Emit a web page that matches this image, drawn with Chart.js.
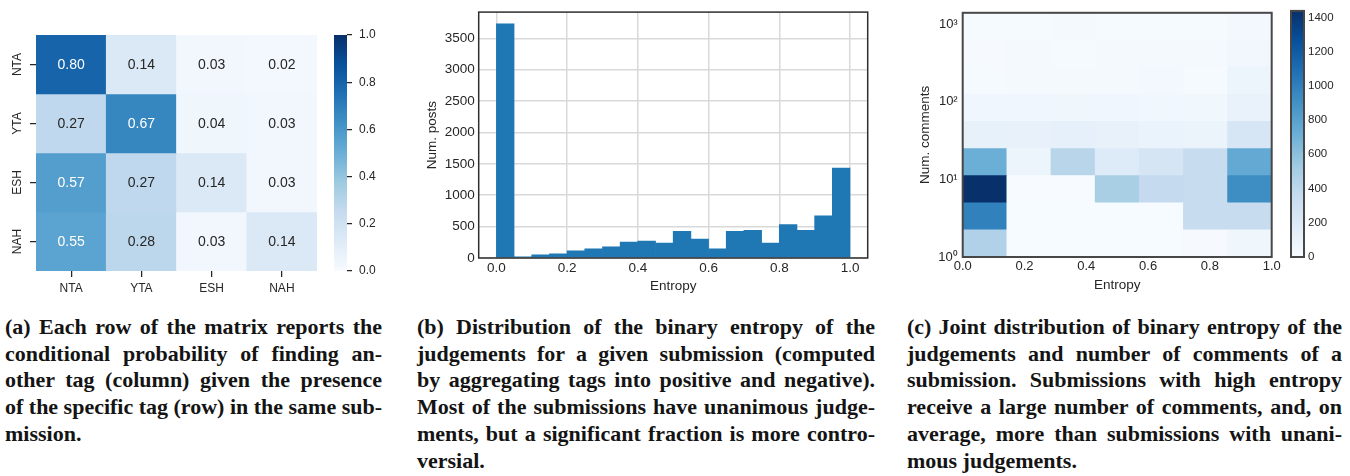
<!DOCTYPE html>
<html>
<head>
<meta charset="utf-8">
<script src="https://cdn.jsdelivr.net/npm/chart.js@4.4.1/dist/chart.umd.min.js"></script>
<style>
  body { margin: 0; background: #fff; width: 1350px; height: 476px; position: relative; overflow: hidden; }
  canvas { position: absolute; top: 0; }
  .cap { position: absolute; top: 314px; font: bold 22px "Liberation Serif", "Times New Roman", serif; line-height: 26.7px; color: #141414; }
  .cap div { white-space: nowrap; }
</style>
</head>
<body>
<canvas id="heat" width="330" height="300" style="left:0;width:330px;height:300px"></canvas>
<canvas id="heatBar" width="80" height="300" style="left:320px;width:80px;height:300px"></canvas>
<canvas id="hist" width="470" height="300" style="left:420px;width:470px;height:300px"></canvas>
<canvas id="joint" width="385" height="300" style="left:900px;width:385px;height:300px"></canvas>
<canvas id="jointBar" width="70" height="300" style="left:1280px;width:70px;height:300px"></canvas>

<div class="cap" style="left:5px;width:377px">
  <div><span>(a) Each row of the matrix reports the</span></div>
  <div><span>conditional probability of finding an-</span></div>
  <div><span>other tag (column) given the presence</span></div>
  <div><span>of the specific tag (row) in the same sub-</span></div>
  <div class="last"><span>mission.</span></div>
</div>
<div class="cap" style="left:417px;width:458px">
  <div><span>(b) Distribution of the binary entropy of the</span></div>
  <div><span>judgements for a given submission (computed</span></div>
  <div><span>by aggregating tags into positive and negative).</span></div>
  <div><span>Most of the submissions have unanimous judge-</span></div>
  <div><span>ments, but a significant fraction is more contro-</span></div>
  <div class="last"><span>versial.</span></div>
</div>
<div class="cap" style="left:907px;width:435px">
  <div><span>(c) Joint distribution of binary entropy of the</span></div>
  <div><span>judgements and number of comments of a</span></div>
  <div><span>submission. Submissions with high entropy</span></div>
  <div><span>receive a large number of comments, and, on</span></div>
  <div><span>average, more than submissions with unani-</span></div>
  <div class="last"><span>mous judgements.</span></div>
</div>

<script>
// (a) conditional probability of tag (column) given tag (row)
const tagLabels = ['NTA', 'YTA', 'ESH', 'NAH'];
const condProbNTA = [0.80, 0.14, 0.03, 0.02];
const condProbYTA = [0.27, 0.67, 0.04, 0.03];
const condProbESH = [0.57, 0.27, 0.14, 0.03];
const condProbNAH = [0.55, 0.28, 0.03, 0.14];
const condRows = [condProbNTA, condProbYTA, condProbESH, condProbNAH];
const probTicks = [0, 0.2, 0.4, 0.6, 0.8, 1.0];

// (b) histogram of entropy
const entropyBinStarts = [0.00, 0.05, 0.10, 0.15, 0.20, 0.25, 0.30, 0.35, 0.40, 0.45,
                          0.50, 0.55, 0.60, 0.65, 0.70, 0.75, 0.80, 0.85, 0.90, 0.95];
const entropyBinWidth = 0.05;
const postCounts = [3730, 20, 52, 67, 114, 145, 176, 254, 269, 238,
                    425, 300, 145, 425, 440, 238, 533, 440, 673, 1434];
const entropyTicks = [0, 0.2, 0.4, 0.6, 0.8, 1.0];
const postTicks = [0, 500, 1000, 1500, 2000, 2500, 3000, 3500];

// (c) joint histogram: entropy bins x comment bins (rows listed bottom -> top)
const jointEntropyEdges = [0, 1/7, 2/7, 3/7, 4/7, 5/7, 6/7, 1];
const commentEdges = [1, 2.24, 5.0, 11.2, 25.0, 55.9, 125, 280, 626, 1400];
const commentTicks = [1, 10, 100, 1000];
const commentTickLabels = ['10⁰', '10¹', '10²', '10³'];
const joint1to2 = [460, 5, 5, 5, 5, 10, 60];
const joint2to5 = [990, 5, 5, 5, 5, 350, 350];
const joint5to11 = [1438, 3, 3, 490, 365, 350, 920];
const joint11to25 = [720, 70, 420, 190, 250, 345, 750];
const joint25to56 = [115, 110, 120, 110, 95, 85, 240];
const joint56to125 = [55, 55, 60, 55, 50, 50, 100];
const joint125to280 = [15, 25, 20, 25, 30, 15, 70];
const joint280to626 = [10, 25, 15, 20, 20, 20, 40];
const joint626to1400 = [12, 12, 25, 15, 12, 12, 35];
const jointRows = [joint1to2, joint2to5, joint5to11, joint11to25, joint25to56,
                   joint56to125, joint125to280, joint280to626, joint626to1400];
const countTicks = [0, 200, 400, 600, 800, 1000, 1200, 1400];

Chart.defaults.font.family = '"Liberation Sans", Arial, sans-serif';
Chart.defaults.color = '#262626';

const BLUES = [[247,251,255],[222,235,247],[198,219,239],[158,202,225],[107,174,214],
               [66,146,198],[33,113,181],[8,81,156],[8,48,107]];
function blues(t) {
  t = Math.min(1, Math.max(0, t));
  const p = t * 8, i = Math.min(7, Math.floor(p)), f = p - i;
  const a = BLUES[i], b = BLUES[i + 1];
  return 'rgb(' + a.map((v, k) => Math.round(v + (b[k] - v) * f)).join(',') + ')';
}
function cbGradient(context) {
  const chart = context.chart, area = chart.chartArea;
  if (!area) return blues(0.5);
  const g = chart.ctx.createLinearGradient(0, area.bottom, 0, area.top);
  BLUES.forEach((c, i) => g.addColorStop(i / 8, 'rgb(' + c.join(',') + ')'));
  return g;
}
const setTicks = list => scale => { scale.ticks = list.map(v => ({ value: v })); };

const framePlugin = {
  id: 'frame',
  afterDraw(chart, args, opts) {
    const { ctx, chartArea: a } = chart;
    ctx.save();
    ctx.strokeStyle = opts.color;
    ctx.lineWidth = opts.width;
    ctx.strokeRect(a.left, a.top, a.right - a.left, a.bottom - a.top);
    ctx.restore();
  }
};

const cellLabels = {
  id: 'cellLabels',
  afterDatasetsDraw(chart) {
    const ctx = chart.ctx;
    ctx.save();
    ctx.font = '14px "Liberation Sans", Arial, sans-serif';
    ctx.textAlign = 'center';
    ctx.textBaseline = 'middle';
    chart.data.datasets.forEach((ds, r) => {
      chart.getDatasetMeta(r).data.forEach((bar, c) => {
        const v = condRows[r][c];
        ctx.fillStyle = v > 0.45 ? '#ffffff' : '#262626';
        ctx.fillText(v.toFixed(2), bar.x, (bar.y + bar.base) / 2 + 1);
      });
    });
    ctx.restore();
  }
};

const base = {
  responsive: false,
  animation: false,
  devicePixelRatio: 1,
  plugins: { legend: { display: false }, tooltip: { enabled: false } }
};
const tickMarks = { offset: false, drawOnChartArea: false, drawTicks: true, tickLength: 6, color: '#262626', lineWidth: 1.25 };
const noGrid = { display: false, drawTicks: false };

// (a) heatmap
new Chart(document.getElementById('heat'), {
  type: 'bar',
  data: {
    labels: tagLabels,
    datasets: condRows.map((row, r) => ({
      data: row.map(() => [r, r + 1]),
      backgroundColor: row.map(v => blues(v)),
      borderWidth: 0, barPercentage: 1, categoryPercentage: 1, grouped: false
    }))
  },
  options: {
    ...base,
    layout: { padding: { top: 35, right: 13, left: 0, bottom: 0 } },
    scales: {
      x: {
        grid: tickMarks, border: { display: false },
        ticks: { padding: 4, font: { size: 12 } },
        afterFit: s => { s.height = 29; }
      },
      y: {
        reverse: true, min: 0, max: 4,
        afterBuildTicks: scale => { scale.ticks = tagLabels.map((_, i) => ({ value: i + 0.5 })); },
        grid: tickMarks, border: { display: false },
        ticks: { callback: v => tagLabels[Math.floor(v)], minRotation: 90, maxRotation: 90,
                 crossAlign: 'center', padding: 0, autoSkip: false, font: { size: 12 } },
        afterFit: s => { s.width = 36; }
      }
    }
  },
  plugins: [cellLabels]
});

// (a) colour bar
new Chart(document.getElementById('heatBar'), {
  type: 'bar',
  data: {
    labels: [''],
    datasets: [{ data: [[probTicks[0], probTicks[probTicks.length - 1]]], backgroundColor: cbGradient,
                 borderWidth: 0, barPercentage: 1, categoryPercentage: 1 }]
  },
  options: {
    ...base,
    layout: { padding: { top: 35, left: 14, bottom: 29, right: 0 } },
    scales: {
      x: { display: false },
      y: {
        position: 'right', min: 0, max: 1,
        afterBuildTicks: setTicks(probTicks),
        grid: { drawOnChartArea: false, drawTicks: true, tickLength: 5, color: '#262626', lineWidth: 1.25 },
        border: { display: false },
        ticks: { padding: 7, callback: v => v.toFixed(1), font: { size: 12 } },
        afterFit: s => { s.width = 53; }
      }
    }
  }
});

// (b) histogram
new Chart(document.getElementById('hist'), {
  type: 'bar',
  data: {
    datasets: [{
      data: entropyBinStarts.map((b, i) => ({ x: b + entropyBinWidth / 2, y: postCounts[i] })),
      backgroundColor: '#1f77b4', borderWidth: 0, barPercentage: 1, categoryPercentage: 1
    }]
  },
  options: {
    ...base,
    plugins: { ...base.plugins, frame: { color: '#2e2e2e', width: 1.5 } },
    layout: { padding: { top: 6, right: 22.3, left: 0, bottom: 0 } },
    scales: {
      x: {
        type: 'linear', offset: false, min: -0.05, max: 1.05,
        afterBuildTicks: setTicks(entropyTicks),
        grid: { offset: false, color: '#d9d9d9', lineWidth: 1.5, drawTicks: false },
        border: { display: false },
        ticks: { padding: 2, font: { size: 13.5 }, callback: v => v.toFixed(1) },
        title: { display: true, text: 'Entropy', font: { size: 13.5 }, padding: { top: 0, bottom: 6 } },
        afterFit: s => { s.height = 42; }
      },
      y: {
        min: 0, max: Math.max(...postCounts) * 1.05,
        afterBuildTicks: setTicks(postTicks),
        grid: { color: '#d9d9d9', lineWidth: 1.5, drawTicks: false },
        border: { display: false },
        ticks: { padding: 4, font: { size: 13.5 }, callback: v => String(v) },
        title: { display: true, text: 'Num. posts', font: { size: 13.5 }, padding: { top: 4, bottom: 0 } },
        afterFit: s => { s.width = 58.7; }
      }
    }
  },
  plugins: [framePlugin]
});

// (c) joint histogram
const countMax = Math.max(...jointRows.flat());
new Chart(document.getElementById('joint'), {
  type: 'bar',
  data: {
    datasets: jointRows.map((row, r) => ({
      data: row.map((v, c) => ({ x: (jointEntropyEdges[c] + jointEntropyEdges[c + 1]) / 2,
                                 y: [commentEdges[r], commentEdges[r + 1]] })),
      backgroundColor: row.map(v => blues(v / countMax)),
      borderWidth: 0, barPercentage: 1, categoryPercentage: 1, grouped: false
    }))
  },
  options: {
    ...base,
    plugins: { ...base.plugins, frame: { color: '#474747', width: 2 } },
    layout: { padding: { top: 6.7, right: 13.3, left: 0, bottom: 0 } },
    scales: {
      x: {
        type: 'linear', offset: false, min: 0, max: 1,
        afterBuildTicks: setTicks(entropyTicks),
        grid: noGrid, border: { display: false },
        ticks: { padding: 2, font: { size: 13 }, callback: v => v.toFixed(1) },
        title: { display: true, text: 'Entropy', font: { size: 13.5 }, padding: { top: 0, bottom: 7 } },
        afterFit: s => { s.height = 43; }
      },
      y: {
        type: 'logarithmic', min: commentEdges[0], max: commentEdges[commentEdges.length - 1],
        afterBuildTicks: setTicks(commentTicks),
        grid: noGrid, border: { display: false },
        ticks: { padding: 5, font: { size: 13 }, callback: v => commentTickLabels[commentTicks.indexOf(v)] },
        title: { display: true, text: 'Num. comments', font: { size: 13.5 }, padding: { top: 17, bottom: 0 } },
        afterFit: s => { s.width = 62.7; }
      }
    }
  },
  plugins: [framePlugin]
});

// (c) colour bar
new Chart(document.getElementById('jointBar'), {
  type: 'bar',
  data: {
    labels: [''],
    datasets: [{ data: [[0, countMax]], backgroundColor: cbGradient,
                 borderWidth: 0, barPercentage: 1, categoryPercentage: 1 }]
  },
  options: {
    ...base,
    plugins: { ...base.plugins, frame: { color: '#474747', width: 2 } },
    layout: { padding: { top: 6.7, left: 11, bottom: 43, right: 0 } },
    scales: {
      x: { display: false },
      y: {
        position: 'right', min: 0, max: countMax,
        afterBuildTicks: setTicks(countTicks),
        grid: noGrid, border: { display: false },
        ticks: { padding: 4, font: { size: 11.5 }, callback: v => String(v) },
        afterFit: s => { s.width = 46; }
      }
    }
  },
  plugins: [framePlugin]
});

// justify caption lines exactly as in the source layout
document.querySelectorAll('.cap').forEach(cap => {
  const w = parseFloat(cap.style.width);
  cap.querySelectorAll(':scope > div:not(.last) > span').forEach(span => {
    const natural = span.getBoundingClientRect().width;
    const spaces = (span.textContent.match(/ /g) || []).length;
    if (spaces) span.style.wordSpacing = ((w - natural) / spaces) + 'px';
  });
});
</script>
</body>
</html>
